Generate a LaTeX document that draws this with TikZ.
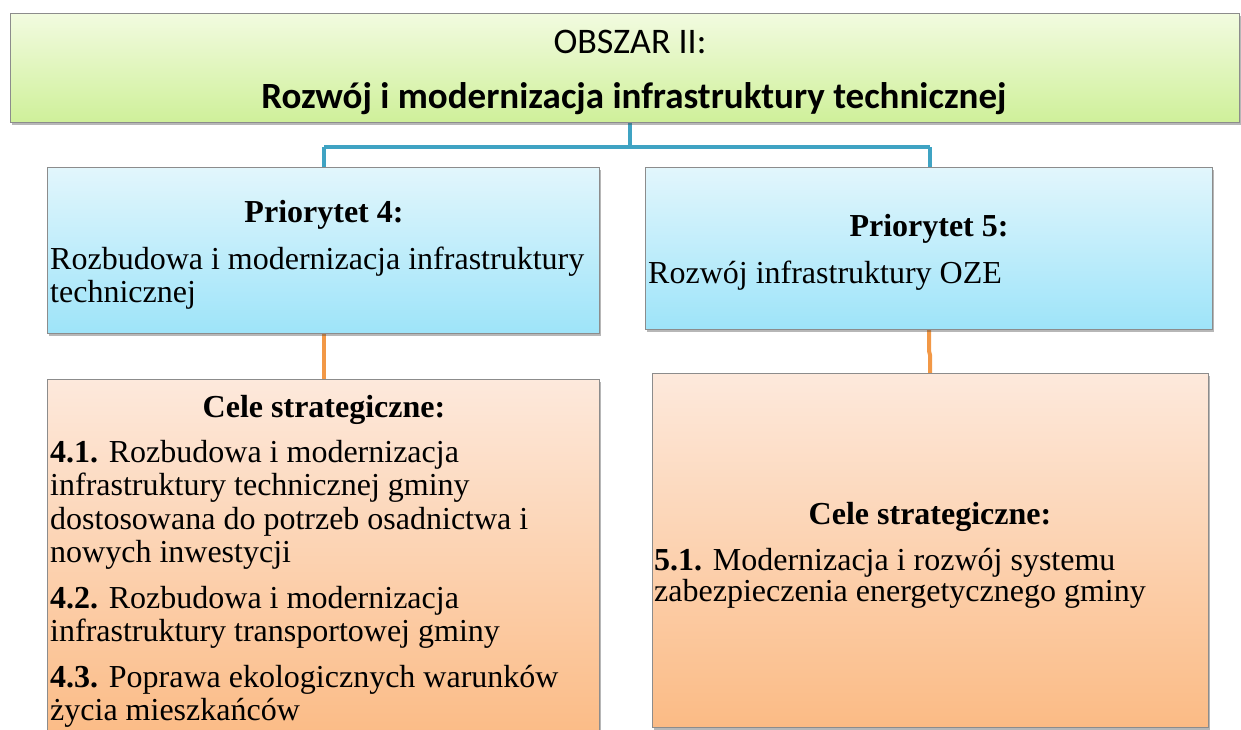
\documentclass[tikz,border=0pt]{standalone}
\usepackage{fontspec}
\setmainfont{Liberation Serif}
\newfontfamily\calib{Carlito}
\usetikzlibrary{shadows}
\definecolor{greentop}{HTML}{F2FBE0}
\definecolor{greenbot}{HTML}{CFF09A}
\definecolor{bluetop}{HTML}{E2F6FC}
\definecolor{bluebot}{HTML}{9EE4F9}
\definecolor{orangetop}{HTML}{FDE9DC}
\definecolor{orangebot}{HTML}{FBBB85}
\definecolor{blueline}{HTML}{3FA3C3}
\definecolor{orangeline}{HTML}{F29846}
\definecolor{boxedge}{HTML}{8C8C8C}
\tikzset{
  boxbase/.style={draw=boxedge, line width=0.8pt, drop shadow={shadow xshift=2pt, shadow yshift=-3pt, opacity=0.4, fill=black!70}},
  greenbox/.style={boxbase, top color=greentop, bottom color=greenbot},
  bluebox/.style={boxbase, top color=bluetop, bottom color=bluebot},
  orangebox/.style={boxbase, top color=orangetop, bottom color=orangebot},
  bline/.style={draw=blueline, line width=4pt},
  oline/.style={draw=orangeline, line width=4pt},
  txt/.style={inner sep=0pt, anchor=base west, font=\fontsize{32}{36}\selectfont},
  ctxt/.style={inner sep=0pt, anchor=base, font=\fontsize{32}{36}\selectfont\bfseries},
}
\begin{document}
\begin{tikzpicture}[x=1pt,y=-1pt]
\useasboundingbox (0,0) rectangle (1241,729);
% connectors first
\coordinate (jT) at (630,147);
\coordinate (jL) at (324,147);
\coordinate (jR) at (930,147);
\draw[bline] (630,122) -- (jT);
\draw[bline] (jL) -- (jR);
\draw[bline] (jL) -- (324,167);
\draw[bline] (jR) -- (930,167);
\draw[oline] (324,333) -- (324,379);
\draw[oline] (929,329) -- (929,351) -- (930,355) -- (930,373);
% boxes
\path[greenbox] (10,13) rectangle (1239,122);
\node[inner sep=0pt, anchor=base, font=\calib\fontsize{36}{40}\selectfont] (obszar) at (630,53) {OBSZAR II:};
\node[inner sep=0pt, anchor=base, font=\calib\fontsize{37}{40}\selectfont\bfseries] (obszartitle) at (634,108) {Rozwój i modernizacja infrastruktury technicznej};

\path[bluebox] (47,167) rectangle (599,333);
\node[ctxt] (p4h) at (324,222) {Priorytet 4:};
\node[txt] (p4a) at (50,269) {Rozbudowa i modernizacja infrastruktury};
\node[txt] (p4b) at (50,302) {technicznej};

\path[bluebox] (645,167) rectangle (1212,329);
\node[ctxt] (p5h) at (929,236) {Priorytet 5:};
\node[txt] (p5a) at (648,283) {Rozwój infrastruktury OZE};

\path[orangebox] (47,379) rectangle (599,740);
\node[ctxt] (c4h) at (324,417) {Cele strategiczne:};
\node[txt] (c41a) at (50,462) {\textbf{4.1.} Rozbudowa i modernizacja};
\node[txt] (c41b) at (50,495) {infrastruktury technicznej gminy};
\node[txt] (c41c) at (50,529) {dostosowana do potrzeb osadnictwa i};
\node[txt] (c41d) at (50,562) {nowych inwestycji};
\node[txt] (c42a) at (50,608) {\textbf{4.2.} Rozbudowa i modernizacja};
\node[txt] (c42b) at (50,641) {infrastruktury transportowej gminy};
\node[txt] (c43a) at (50,687) {\textbf{4.3.} Poprawa ekologicznych warunków};
\node[txt] (c43b) at (50,720) {życia mieszkańców};

\path[orangebox] (652,373) rectangle (1208,727);
\node[ctxt] (c5h) at (930,524) {Cele strategiczne:};
\node[txt] (c51a) at (654,570) {\textbf{5.1.} Modernizacja i rozwój systemu};
\node[txt] (c51b) at (654,601) {zabezpieczenia energetycznego gminy};
\end{tikzpicture}
\end{document}
